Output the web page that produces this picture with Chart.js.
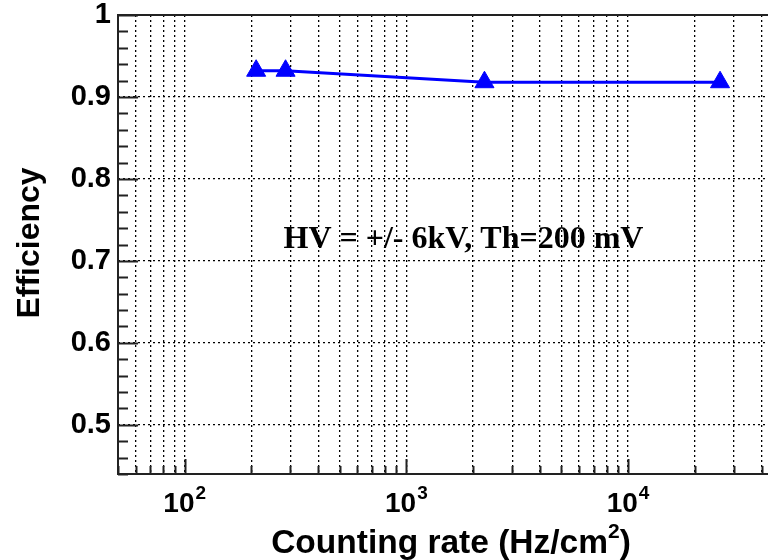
<!DOCTYPE html>
<html>
<head>
<meta charset="utf-8">
<script src="https://cdn.jsdelivr.net/npm/chart.js@4.4.1/dist/chart.umd.min.js"></script>
<style>
html, body { margin:0; padding:0; background:#fff; overflow:hidden; }
#wrap { position:relative; width:800px; height:560px; }
</style>
</head>
<body>
<div id="wrap"><canvas id="myChart" width="800" height="560"></canvas></div>
<script>
// measured points
var rates = [210, 285, 2250, 26000];
var efficiency = [0.932, 0.932, 0.918, 0.918];

// axes
var xMin = 50, xMax = 50000;
var yMin = 0.44, yMax = 1.0;
var yTickValues = [0.5, 0.6, 0.7, 0.8, 0.9, 1.0];
var yTickLabels = ["0.5", "0.6", "0.7", "0.8", "0.9", "1"];
var yMinorStep = 0.02;
var xDecades = [100, 1000, 10000];
var xDecadeExp = ["2", "3", "4"];
var xTitle = "Counting rate (Hz/cm";
var xTitleSup = "2";
var yTitle = "Efficiency";

// text in the pad
var note = "HV = +/- 6kV, Th=200 mV";
var noteX = 279, noteY = 0.716;

var SANS = "'Liberation Sans', Arial, sans-serif";
var SERIF = "'Liberation Serif', 'Times New Roman', serif";

function xTickValues() {
    var out = [];
    for (var d = 10; d <= xMax; d *= 10) {
        for (var k = 1; k <= 9; k++) {
            var v = k * d;
            if (v >= xMin && v <= xMax) out.push(v);
        }
    }
    return out;
}

var rootFrame = {
    id: "rootFrame",
    beforeDatasetsDraw: function (chart) {
        var ctx = chart.ctx, a = chart.chartArea;
        var xs = chart.scales.x, ys = chart.scales.y;
        ctx.save();
        ctx.strokeStyle = "#222";
        ctx.lineWidth = 2;
        ctx.setLineDash([]);
        ctx.beginPath();
        // y ticks, pointing inward
        var n = Math.round((yMax - yMin) / yMinorStep);
        for (var i = 0; i <= n; i++) {
            var v = yMin + i * yMinorStep;
            var major = Math.abs(v * 10 - Math.round(v * 10)) < 1e-6;
            var py = Math.round(ys.getPixelForValue(v)) + 0.5;
            ctx.moveTo(a.left, py);
            ctx.lineTo(a.left + (major ? 20 : 10), py);
        }
        // x ticks
        xTickValues().forEach(function (v) {
            var major = xDecades.indexOf(v) >= 0;
            var px = Math.round(xs.getPixelForValue(v)) + 0.5;
            ctx.moveTo(px, a.bottom);
            ctx.lineTo(px, a.bottom - (major ? 15 : 8));
        });
        ctx.stroke();
        ctx.strokeRect(a.left, a.top, a.right - a.left, a.bottom - a.top);

        // annotation
        ctx.fillStyle = "#000";
        ctx.font = "bold 32px " + SERIF;
        ctx.textAlign = "left";
        ctx.textBaseline = "alphabetic";
        ctx.fillText(note, xs.getPixelForValue(noteX), ys.getPixelForValue(noteY));
        ctx.restore();
    },
    afterDraw: function (chart) {
        var ctx = chart.ctx, a = chart.chartArea, xs = chart.scales.x;
        ctx.save();
        ctx.fillStyle = "#000";
        ctx.textBaseline = "alphabetic";
        ctx.textAlign = "left";
        // decade labels 10^n
        xDecades.forEach(function (v, i) {
            ctx.font = "bold 28px " + SANS;
            var wBase = ctx.measureText("10").width;
            ctx.font = "bold 19px " + SANS;
            var wExp = ctx.measureText(xDecadeExp[i]).width;
            var px = xs.getPixelForValue(v);
            var x0 = px - (wBase + wExp + 1) / 2;
            ctx.font = "bold 28px " + SANS;
            ctx.fillText("10", x0, a.bottom + 38);
            ctx.font = "bold 19px " + SANS;
            ctx.fillText(xDecadeExp[i], x0 + wBase + 1, a.bottom + 25);
        });
        // x title
        ctx.font = "bold 33.5px " + SANS;
        var w1 = ctx.measureText(xTitle).width;
        var w3 = ctx.measureText(")").width;
        ctx.font = "bold 21px " + SANS;
        var w2 = ctx.measureText(xTitleSup).width;
        var tx = 451 - (w1 + w2 + w3) / 2;
        ctx.font = "bold 33.5px " + SANS;
        ctx.fillText(xTitle, tx, 553);
        ctx.fillText(")", tx + w1 + w2, 553);
        ctx.font = "bold 21px " + SANS;
        ctx.fillText(xTitleSup, tx + w1, 538);
        // y title
        ctx.translate(39, 243);
        ctx.rotate(-Math.PI / 2);
        ctx.textAlign = "center";
        ctx.font = "bold 32px " + SANS;
        ctx.fillText(yTitle, 0, 0);
        ctx.restore();
    }
};

var ctx = document.getElementById("myChart").getContext("2d");
var myChart = new Chart(ctx, {
    type: "scatter",
    data: {
        datasets: [{
            data: rates.map(function (r, i) { return { x: r, y: efficiency[i] }; }),
            showLine: true,
            borderColor: "#0000ff",
            backgroundColor: "#0000ff",
            borderWidth: 3,
            tension: 0,
            pointStyle: "triangle",
            pointRadius: 11,
            pointBorderWidth: 1,
            pointBorderColor: "#0000ff"
        }]
    },
    options: {
        responsive: false,
        animation: false,
        devicePixelRatio: 1,
        layout: { padding: { top: 15, right: 17, left: 0, bottom: 0 } },
        plugins: {
            legend: { display: false },
            tooltip: { enabled: false }
        },
        scales: {
            x: {
                type: "logarithmic",
                min: xMin,
                max: xMax,
                afterBuildTicks: function (scale) {
                    scale.ticks = xTickValues().map(function (v) { return { value: v }; });
                },
                afterFit: function (scale) {
                    scale.height = 86;
                    scale.paddingLeft = 0;
                    scale.paddingRight = 0;
                },
                ticks: { display: false },
                grid: { color: "#000", lineWidth: 1.3, drawTicks: false },
                border: { display: false, dash: [2, 3] }
            },
            y: {
                min: yMin,
                max: yMax,
                afterBuildTicks: function (scale) {
                    scale.ticks = yTickValues.map(function (v) { return { value: v }; });
                },
                afterFit: function (scale) {
                    scale.width = 118;
                    scale.paddingTop = 0;
                    scale.paddingBottom = 0;
                },
                ticks: {
                    autoSkip: false,
                    padding: 7,
                    color: "#000",
                    font: { family: SANS, size: 29, weight: "bold" },
                    callback: function (v) {
                        var i = yTickValues.indexOf(Math.round(v * 100) / 100);
                        return i >= 0 ? yTickLabels[i] : "";
                    }
                },
                grid: { color: "#000", lineWidth: 1.3, drawTicks: false },
                border: { display: false, dash: [2, 3] }
            }
        }
    },
    plugins: [rootFrame]
});
</script>
</body>
</html>
